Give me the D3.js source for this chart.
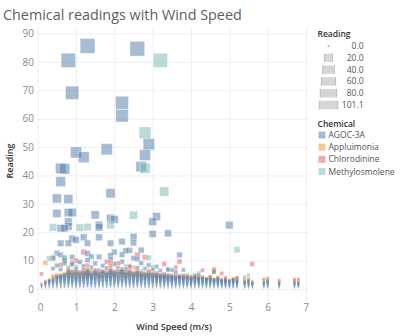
<!DOCTYPE html>
<html><head><meta charset="utf-8">
<script src="https://cdn.jsdelivr.net/npm/d3@7"></script>
<style>
html,body{margin:0;padding:0;background:#fff;}
svg{display:block;font-family:"Open Sans",sans-serif;}
</style></head>
<body><svg id="c" width="400" height="336"></svg>
<script>
// ---------------- DATA ----------------
const chemicals = ["AGOC-3A","Appluimonia","Chlorodinine","Methylosmolene"];
const chemColors = ["#4e79a7","#f28e2b","#e15759","#76b7b2"];
const xTickLabels = ["0","1","2","3","4","5","6","7"];
const yTickLabels = ["0","10","20","30","40","50","60","70","80","90"];
const sizeLegendValues = [0.0, 20.0, 40.0, 60.0, 80.0, 101.1];
const sizeLegendLabels = ["0.0","20.0","40.0","60.0","80.0","101.1"];

// wind speed columns of the dense low readings
const windSpeeds = [0.1,0.2,0.3,0.4,0.5,0.6,0.7,0.8,0.9,1.0,1.1,1.2,1.3,1.4,1.5,1.6,1.7,1.8,1.9,2.0,
  2.1,2.2,2.3,2.4,2.5,2.6,2.7,2.8,2.9,3.0,3.1,3.2,3.3,3.4,3.5,3.6,3.7,3.8,3.9,4.0,
  4.1,4.2,4.3,4.4,4.5,4.6,4.7,4.8,4.9,5.0,5.1,5.2,5.4,5.5,5.6,5.9,6.0,6.3,6.7,6.8];

// AGOC-3A low readings per wind-speed column
const agocLow = [
 [0.3,0.6,0.9,1.2,1.5],
 [0.3,0.7,1.1,1.5,1.9,2.4],
 [0.3,0.7,1.1,1.5,1.9,2.3,2.7,3.0],
 [0.3,0.7,1.1,1.5,1.9,2.3,2.7,3.1,3.5],
 [0.3,0.7,1.1,1.5,2.0,2.4,2.8,3.3,3.7,4.2],
 [0.3,0.7,1.1,1.6,2.0,2.5,2.9,3.3,3.8,4.2,4.6],
 [0.4,0.8,1.2,1.6,2.1,2.5,3.0,3.4,3.9,4.4,5.0],
 [0.4,0.8,1.2,1.7,2.1,2.6,3.0,3.5,4.0,4.5,5.0,5.6],
 [0.4,0.8,1.3,1.7,2.2,2.6,3.1,3.6,4.1,4.6,5.2,5.8],
 [0.3,0.8,1.2,1.7,2.1,2.6,3.0,3.5,3.9,4.4,4.9,5.4],
 [0.4,0.8,1.3,1.7,2.2,2.7,3.1,3.6,4.1,4.7,5.3,5.9],
 [0.4,0.8,1.2,1.7,2.2,2.6,3.1,3.6,4.1,4.6,5.1,5.6],
 [0.4,0.9,1.3,1.8,2.2,2.7,3.2,3.7,4.2,4.7,5.2,5.7,6.2],
 [0.3,0.8,1.2,1.7,2.1,2.6,3.1,3.6,4.0,4.5,5.0,5.5],
 [0.4,0.8,1.3,1.7,2.2,2.7,3.2,3.7,4.2,4.8,5.3,5.8],
 [0.3,0.7,1.2,1.6,2.1,2.6,3.0,3.5,4.0,4.4,4.9,5.3],
 [0.4,0.9,1.3,1.8,2.3,2.8,3.3,3.8,4.3,4.8,5.4,5.9],
 [0.4,0.8,1.2,1.7,2.2,2.7,3.1,3.6,4.1,4.6,5.0,5.5],
 [0.4,0.9,1.4,1.8,2.3,2.8,3.3,3.8,4.4,4.9,5.4,5.9,6.4],
 [0.3,0.8,1.2,1.7,2.2,2.7,3.1,3.6,4.1,4.6,5.1,5.6],
 [0.4,0.8,1.3,1.8,2.3,2.7,3.2,3.7,4.2,4.8,5.4,6.0],
 [0.4,0.9,1.4,1.9,2.4,2.9,3.4,3.9,4.4,4.9,5.5,6.0,6.5],
 [0.3,0.8,1.2,1.7,2.2,2.6,3.1,3.6,4.1,4.6,5.0,5.5],
 [0.4,0.8,1.3,1.7,2.2,2.7,3.2,3.7,4.2,4.8,5.3,5.8],
 [0.3,0.7,1.2,1.6,2.1,2.6,3.0,3.5,4.0,4.5,4.9,5.4],
 [0.4,0.8,1.3,1.7,2.2,2.7,3.2,3.6,4.2,4.7,5.2,5.7],
 [0.3,0.7,1.2,1.6,2.1,2.5,3.0,3.4,3.9,4.3,4.8,5.2],
 [0.4,0.8,1.2,1.7,2.1,2.6,3.1,3.6,4.0,4.5,5.0,5.5],
 [0.3,0.7,1.1,1.6,2.0,2.4,2.9,3.3,3.8,4.2,4.6,5.0],
 [0.4,0.8,1.2,1.7,2.1,2.6,3.0,3.5,4.0,4.4,4.9,5.3],
 [0.3,0.7,1.1,1.5,2.0,2.4,2.8,3.2,3.6,4.0,4.4,4.8],
 [0.3,0.7,1.2,1.6,2.0,2.5,2.9,3.3,3.7,4.2,4.6,5.0],
 [0.3,0.7,1.1,1.5,1.9,2.3,2.7,3.1,3.5,3.9,4.2,4.6],
 [0.3,0.7,1.1,1.5,2.0,2.4,2.8,3.2,3.6,4.0,4.5,4.9],
 [0.3,0.7,1.1,1.5,1.9,2.3,2.7,3.1,3.4,3.8,4.1,4.5],
 [0.3,0.7,1.0,1.4,1.8,2.2,2.6,3.0,3.4,3.8,4.2],
 [0.3,0.7,1.1,1.5,1.9,2.3,2.7,3.1,3.5,3.9,4.2,4.6],
 [0.3,0.6,1.0,1.4,1.8,2.2,2.5,2.9,3.3,3.7,4.0],
 [0.3,0.7,1.1,1.5,1.8,2.2,2.6,3.0,3.4,3.8,4.2],
 [0.3,0.6,1.0,1.4,1.7,2.1,2.4,2.8,3.1,3.5,3.8],
 [0.3,0.7,1.0,1.4,1.8,2.2,2.6,2.9,3.3,3.7,4.1],
 [0.3,0.6,1.0,1.3,1.7,2.0,2.4,2.7,3.0,3.4,3.7],
 [0.3,0.6,1.0,1.4,1.7,2.1,2.5,2.8,3.2,3.6,3.9],
 [0.3,0.6,0.9,1.3,1.6,2.0,2.3,2.6,3.0,3.3,3.6],
 [0.3,0.6,1.0,1.3,1.7,2.0,2.4,2.7,3.1,3.4,3.8],
 [0.3,0.6,0.9,1.2,1.5,1.9,2.2,2.5,2.8,3.1,3.3],
 [0.3,0.6,0.9,1.3,1.6,1.9,2.2,2.6,2.9,3.2,3.5],
 [0.3,0.6,0.9,1.2,1.5,1.8,2.1,2.4,2.7,2.9,3.1],
 [0.3,0.6,0.9,1.2,1.5,1.8,2.1,2.4,2.7,3.0,3.2],
 [0.3,0.6,0.9,1.1,1.4,1.7,2.0,2.3,2.6,2.9],
 [0.3,0.6,0.9,1.2,1.5,1.9,2.2,2.5,2.8,3.1,3.4],
 [0.3,0.6,0.9,1.2,1.5,1.8,2.1,2.4,2.7,3.0],
 [0.3,0.6,0.9,1.2,1.5,1.8,2.1,2.4,2.6],
 [0.3,0.6,0.9,1.2,1.5,1.8,2.1,2.5,2.8],
 [0.3,0.6,0.9,1.2,1.5,1.8,2.0,2.3],
 [0.3,0.6,0.9,1.2,1.5,1.8,2.1,2.4],
 [0.3,0.6,0.9,1.2,1.5,1.8,2.1,2.4,2.6],
 [0.3,0.6,0.9,1.2,1.5,1.8,2.0,2.2],
 [0.3,0.6,0.9,1.2,1.5,1.8,2.1,2.5],
 [0.3,0.6,0.9,1.2,1.5,1.8,2.0,2.3]
];
// Appluimonia low readings per column
const appluLow = [
 [2.0],[2.8],[3.3],[4.1,4.6],[4.4],[4.9],[5.3],[4.6,5.8],[5.2],[5.7,4.3],
 [4.9],[5.9,4.4],[6.6],[5.0],[6.1],[5.5,4.2],[4.8],[5.9],[4.5,6.8],[5.2],
 [4.7],[5.8],[6.0,4.4],[5.1],[5.8],[4.6],[5.6],[4.8],[5.4],[4.4],
 [5.2],[4.3],[4.9],[4.2],[4.8],[4.0],[4.4],[3.9],[4.5],[3.9],
 [4.4],[3.8],[4.3],[3.7],[4.2],[3.6],[3.9],[3.4],[3.7],[3.2],
 [3.7],[3.4],[3.0],[3.3],[2.8],[3.0],[3.2],[2.7],[3.0],[2.9]
];
// Chlorodinine low readings per column
const chloroLow = [
 [],[2.2],[],[],[4.8],[],[],[6.0],[],[6.3],
 [],[6.8],[5.2],[],[6.7],[],[6.3],[],[7.5],[6.2],
 [],[7.0],[],[6.4],[],[6.1],[],[],[5.8],[],
 [5.6],[],[5.3],[],[],[4.8],[],[4.5],[],[4.4],
 [],[4.3],[],[],[4.4],[],[4.1],[],[3.9],[],
 [],[3.8],[],[3.5],[],[3.5],[3.7],[3.1],[3.4],[3.5]
];
// Methylosmolene low readings per column
const methylLow = [
 [],[],[],[],[],[],[],[],[6.5],[],
 [],[],[],[6.4],[],[],[],[],[],[],
 [],[],[],[],[],[],[6.3],[],[],[7.7],
 [],[],[],[],[],[],[],[],[4.9],[],
 [5.0],[5.6],[],[],[],[],[],[],[],[],
 [],[],[3.6],[4.9],[],[],[2.9],[],[],[]
];

// individual higher readings: [wind speed, reading]
const agocHigh = [[0.8,80.5],[1.3,85.6],[2.6,84.6],[0.9,69.1],[2.2,65.6],[2.2,61.0],[2.9,51.0],
 [1.0,48.1],[1.8,49.2],[1.2,46.4],[2.8,47.2],[0.6,42.5],[0.7,42.3],[2.7,43.1],[0.6,37.8],
 [1.9,33.7],[0.5,31.9],[0.8,31.7],[0.5,26.6],[0.8,26.9],[0.9,26.9],[1.5,26.1],[1.9,24.9],
 [2.0,24.5],[0.8,23.7],[1.6,22.5],[0.6,21.4],[0.7,21.4],[0.8,22.0],[1.6,21.7],[3.1,25.5],
 [3.0,23.7],[5.0,22.5],[3.0,19.4],[3.4,19.6],[2.5,18.4],[2.5,16.3],[2.2,16.7],[0.9,17.8],
 [0.6,16.1],[0.8,16.1],[1.0,17.3],[1.2,18.2],[1.3,16.1],[1.6,18.2],[1.9,16.1],[2.3,13.5],
 [2.4,13.6],[2.7,13.7],[0.5,12.6],[3.7,12.0],[0.4,10.8],[0.7,10.0],[0.7,11.0],[1.4,11.4],
 [3.4,6.7],[3.5,6.7],[3.8,6.7],[4.6,5.9],[5.2,4.0],
 [0.4,7.2],[0.5,8.3],[0.6,6.9],[0.7,9.0],[0.8,7.5],[0.9,8.6],[1.0,7.0],[1.1,9.5],[1.2,8.0],
 [1.3,10.2],[1.4,7.6],[1.5,9.0],[1.6,11.3],[1.7,8.2],[1.8,7.3],[1.9,10.4],[2.0,8.8],[2.1,7.4],
 [2.2,9.6],[2.3,7.0],[2.4,8.1],[2.5,10.9],[2.6,7.5],[2.7,9.1],[2.8,7.2],[2.9,8.4],[3.0,6.8],
 [3.1,7.9],[3.2,6.5],[3.4,7.1],[3.6,6.0],[0.6,12.0],[1.3,12.5],[1.9,11.8],[2.2,12.1],
 [0.9,11.2],[1.6,6.6],[2.0,13.0],[2.6,10.6]];
const appluHigh = [[0.2,9.2],[1.9,8.3],[2.5,7.6],[1.3,7.2],[0.8,6.8],[2.9,6.5],[4.6,6.2]];
const chloroHigh = [[0.1,5.3],[0.6,8.5],[1.0,10.0],[1.2,13.0],[1.8,9.6],[1.9,9.2],[2.1,9.0],
 [2.6,12.0],[2.8,11.2],[3.3,8.8],[3.6,7.6],[3.7,9.7],[4.3,6.6],[4.6,7.0],[4.8,5.5],[5.6,8.8],
 [1.3,8.3],[2.4,7.8],[0.9,9.2]];
const methylHigh = [[3.2,80.5],[2.8,55.0],[2.8,42.5],[3.3,34.3],[2.5,26.0],[1.9,22.5],[0.4,21.7],
 [1.1,21.6],[1.3,21.8],[5.2,13.8],[0.3,10.8],[0.4,11.2],[2.9,11.0],[3.8,4.9],[4.1,4.6],
 [4.2,5.0],[5.4,4.3],[2.3,8.0],[1.0,7.8]];

// ---------------- BUILD ----------------
const points = [];
const lowSets = [agocLow, appluLow, chloroLow, methylLow];
const highSets = [agocHigh, appluHigh, chloroHigh, methylHigh];
highSets.forEach((set, ci) => set.forEach(([s, r]) => points.push({speed: s, reading: r, chem: ci})));
windSpeeds.forEach((s, i) => {
  lowSets.forEach((set, ci) => set[i].forEach(r => points.push({speed: s, reading: r, chem: ci})));
});
points.sort((a, b) => b.reading - a.reading);

const svg = d3.select("#c");
const paneL = 37, paneR = 309, paneT = 27, paneB = 302;
const x = d3.scaleLinear().domain([0, 7]).range([37.7, 306]);
const y = d3.scaleLinear().domain([0, 90]).range([289, 33.4]);
const side = d3.scaleSqrt().domain([0, 85]).range([0, 14.7]);
const color = d3.scaleOrdinal().domain(d3.range(chemicals.length)).range(chemColors);

// title
const title = svg.append("text").attr("x", 3).attr("y", 19.5)
  .attr("font-size", 15).attr("fill", "#5e5e5e")
  .text("Chemical readings with Wind Speed");
const tl = title.node().getComputedTextLength();
title.attr("font-size", 15 * 239 / tl);

// gridlines
svg.append("g").attr("transform", `translate(0,${paneB})`)
  .call(d3.axisBottom(x).tickValues(d3.range(xTickLabels.length)).tickSize(-(paneB - paneT)).tickFormat(""))
  .call(g => g.select(".domain").remove())
  .call(g => g.selectAll("line").attr("stroke", "#efefef"));
svg.append("g").attr("transform", `translate(${paneL},0)`)
  .call(d3.axisLeft(y).tickValues(yTickLabels.map(Number)).tickSize(-(paneR - paneL)).tickFormat(""))
  .call(g => g.select(".domain").remove())
  .call(g => g.selectAll("line").attr("stroke", "#efefef"));

// axes labels
svg.append("g").attr("transform", `translate(${paneL - 3},0)`)
  .call(d3.axisLeft(y).tickValues(yTickLabels.map(Number)).tickSize(0).tickPadding(0)
    .tickFormat((d, i) => yTickLabels[i]))
  .call(g => g.select(".domain").remove())
  .call(g => g.selectAll("text").attr("fill", "#8a8a8a").attr("font-size", 10)
    .attr("font-family", "Open Sans, sans-serif"));
svg.append("g").attr("transform", `translate(0,${paneB + 2})`)
  .call(d3.axisBottom(x).tickValues(d3.range(xTickLabels.length)).tickSize(0).tickPadding(0)
    .tickFormat((d, i) => xTickLabels[i]))
  .call(g => g.select(".domain").remove())
  .call(g => g.selectAll("text").attr("fill", "#8a8a8a").attr("font-size", 10)
    .attr("font-family", "Open Sans, sans-serif"))
  .call(g => {
    g.selectAll(".tick").filter(d => d === 0).select("text").attr("text-anchor", "start").attr("dx", -0.5);
    g.selectAll(".tick").filter(d => d === 7).select("text").attr("text-anchor", "end").attr("dx", 2.5);
  });

svg.append("text").attr("x", 174).attr("y", 330).attr("text-anchor", "middle")
  .attr("font-size", 9).attr("font-weight", 600).attr("fill", "#333")
  .text("Wind Speed (m/s)");
svg.append("text").attr("transform", "translate(12.5,161) rotate(-90)").attr("text-anchor", "middle")
  .attr("font-size", 9).attr("font-weight", 600).attr("fill", "#333")
  .text("Reading");

// marks
svg.append("clipPath").attr("id", "pane").append("rect")
  .attr("x", paneL).attr("y", paneT).attr("width", paneR - paneL).attr("height", paneB - paneT);
svg.append("g").attr("clip-path", "url(#pane)")
  .selectAll("rect").data(points).join("rect")
  .attr("x", d => x(d.speed) - Math.max(side(d.reading), 1) / 2)
  .attr("y", d => y(d.reading) - Math.max(side(d.reading), 1) / 2)
  .attr("width", d => Math.max(side(d.reading), 1))
  .attr("height", d => Math.max(side(d.reading), 1))
  .attr("fill", d => color(d.chem))
  .attr("fill-opacity", 0.5)
  .attr("stroke", d => side(d.reading) > 4 ? "#fff" : "none")
  .attr("stroke-opacity", 0.45)
  .attr("stroke-width", 0.8);

// size legend
const lg = svg.append("g");
lg.append("text").attr("x", 317.5).attr("y", 37).attr("font-size", 8.5).attr("font-weight", 600)
  .attr("fill", "#333").text("Reading");
const legSide = d3.scaleSqrt().domain([0, 101.1]).range([0, 18.5]);
const rowY = d3.scaleLinear().domain([0, sizeLegendValues.length - 1]).range([46, 105]);
sizeLegendValues.forEach((v, i) => {
  const w = Math.max(legSide(v), 1.5), h = Math.min(w, 8.5), cy = rowY(i);
  lg.append("rect").attr("x", 328.5 - w / 2).attr("y", cy - h / 2).attr("width", w).attr("height", h)
    .attr("fill", v > 0 ? "#d6d6d6" : "#999");
  if (v > 0) {
    [328.5 - w / 2, 328.5 + w / 2].forEach(lx => lg.append("line")
      .attr("x1", lx).attr("x2", lx).attr("y1", cy - h / 2).attr("y2", cy + h / 2)
      .attr("stroke", "#b0b0b0").attr("stroke-width", 0.8));
  }
  lg.append("text").attr("x", 363.5).attr("y", cy + 3).attr("text-anchor", "end")
    .attr("font-size", 8.5).attr("fill", "#555").text(sizeLegendLabels[i]);
});

// color legend
lg.append("text").attr("x", 317.5).attr("y", 126.5).attr("font-size", 8.5).attr("font-weight", 600)
  .attr("fill", "#333").text("Chemical");
const chemY = d3.scaleLinear().domain([0, chemicals.length - 1]).range([135, 171.5]);
chemicals.forEach((c, i) => {
  lg.append("rect").attr("x", 318.5).attr("y", chemY(i) - 3.5).attr("width", 7).attr("height", 7)
    .attr("fill", chemColors[i]).attr("fill-opacity", 0.5);
  lg.append("text").attr("x", 328.5).attr("y", chemY(i) + 3).attr("font-size", 8.5)
    .attr("fill", "#555").text(c);
});
</script></body></html>
